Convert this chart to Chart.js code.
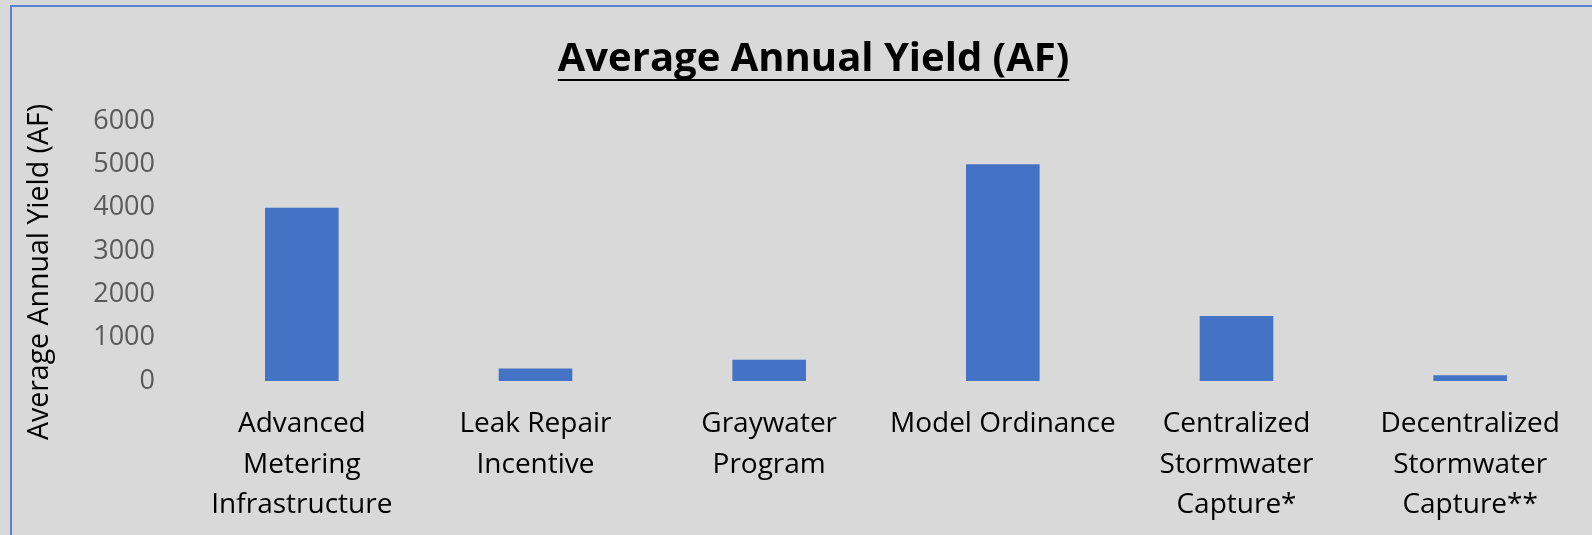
<!DOCTYPE html>
<html>
<head>
<meta charset="utf-8">
<script src="https://cdn.jsdelivr.net/npm/chart.js@4.4.0/dist/chart.umd.min.js"></script>
<style>
  html, body { margin: 0; padding: 0; background: #d9d9d9; overflow: hidden; }
  body { width: 1592px; height: 535px; position: relative; }
  #frame { position: absolute; left: 10px; top: 5px; width: 1600px; height: 560px; border: 2px solid #5b82d2; box-sizing: border-box; }
  #wrap { position: absolute; left: 0; top: 0; width: 1627px; height: 535px; }
</style>
</head>
<body>
<div id="frame"></div>
<div id="wrap"><canvas id="bar" width="1627" height="535"></canvas></div>
<script>
const categories = [
  ["Advanced", "Metering", "Infrastructure"],
  ["Leak Repair", "Incentive"],
  ["Graywater", "Program"],
  "Model Ordinance",
  ["Centralized", "Stormwater", "Capture*"],
  ["Decentralized", "Stormwater", "Capture**"],
];
const yieldValues = [4000, 290, 490, 5000, 1500, 135];
const yTicks = [0, 1000, 2000, 3000, 4000, 5000, 6000];

const chartTitle = "Average Annual Yield (AF)";
const axisTitle = "Average Annual Yield (AF)";
const FONT = "'Open Sans', sans-serif";

// underline the title, and draw the y title centred like Excel does
const extras = {
  id: "extras",
  afterDraw(chart) {
    const ctx = chart.ctx;
    const tb = chart.titleBlock;
    ctx.save();
    ctx.font = "bold 40px " + FONT;
    const w = ctx.measureText(chartTitle).width;
    const cx = (tb.left + tb.right) / 2;
    const y = tb.top + tb.options.padding.top + 43;
    ctx.fillStyle = "#000";
    ctx.fillRect(cx - w / 2, y, w, 2);

    ctx.font = "28.5px " + FONT;
    ctx.translate(40, 272);
    ctx.rotate(-Math.PI / 2);
    ctx.textAlign = "center";
    ctx.textBaseline = "middle";
    ctx.fillText(axisTitle, 0, 0);
    ctx.restore();
  },
};

const barcomp = new Chart(document.getElementById("bar"), {
  type: "bar",
  data: {
    labels: categories,
    datasets: [
      {
        label: "Average Annual Yield (AF)",
        data: yieldValues,
        backgroundColor: "#4472c4",
        categoryPercentage: 1,
        barPercentage: 0.315,
      },
    ],
  },
  options: {
    responsive: false,
    animation: false,
    devicePixelRatio: 1,
    layout: { padding: { left: 40, right: 40, top: 0, bottom: 0 } },
    plugins: {
      legend: { display: false },
      tooltip: { enabled: false },
      title: {
        display: true,
        text: chartTitle,
        color: "#000",
        font: { family: FONT, size: 40, weight: "bold", lineHeight: 1.2 },
        padding: { top: 36, bottom: 37 },
      },
    },
    scales: {
      x: {
        grid: { display: false },
        border: { display: false },
        ticks: {
          color: "#000",
          font: { family: FONT, size: 28, lineHeight: 1.45 },
          padding: 15,
          maxRotation: 0,
          autoSkip: false,
        },
        afterFit: (axis) => { axis.height = 154; },
      },
      y: {
        min: 0,
        max: 6000,
        grid: { display: false },
        border: { display: false },
        afterBuildTicks: (axis) => { axis.ticks = yTicks.map((v) => ({ value: v })); },
        ticks: {
          color: "#595959",
          font: { family: FONT, size: 27 },
          padding: 22,
          callback: (v) => String(v),
        },
        afterFit: (axis) => { axis.width = 145; },
      },
    },
  },
  plugins: [extras],
});
</script>
</body>
</html>
